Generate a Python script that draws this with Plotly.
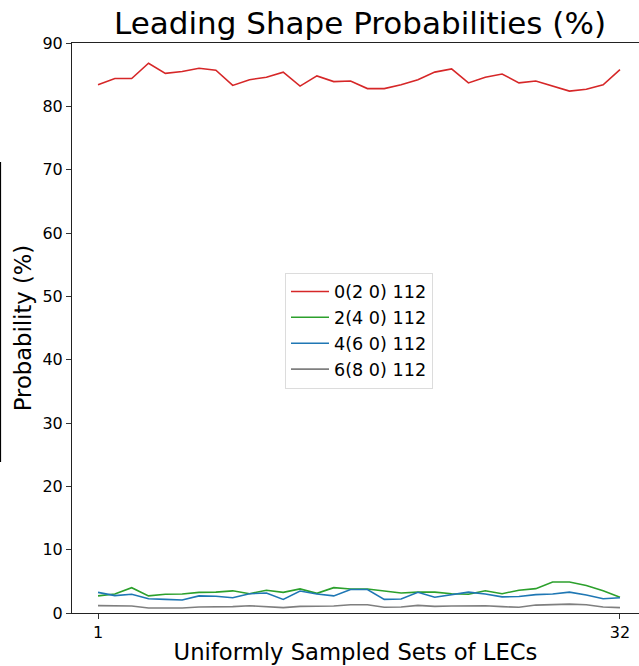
import plotly.graph_objects as go

x_vals = list(range(1, 33))
series_names = ["0(2 0) 112", "2(4 0) 112", "4(6 0) 112", "6(8 0) 112"]
red_vals = [83.4, 84.4, 84.4, 86.8, 85.2, 85.5, 86.0, 85.7, 83.3, 84.2, 84.6, 85.4,
            83.2, 84.8, 83.9, 84.0, 82.8, 82.8, 83.4, 84.2, 85.4, 85.9, 83.7, 84.6,
            85.1, 83.7, 84.0, 83.2, 82.4, 82.7, 83.4, 85.8]
green_vals = [2.7, 3.0, 4.0, 2.7, 2.95, 3.0, 3.26, 3.3, 3.5, 3.05, 3.6, 3.26,
              3.8, 3.1, 4.0, 3.8, 3.8, 3.5, 3.15, 3.3, 3.3, 3.05, 2.95, 3.5,
              3.05, 3.6, 3.85, 4.9, 4.9, 4.35, 3.5, 2.5]
blue_vals = [3.26, 2.75, 2.95, 2.26, 2.15, 2.05, 2.7, 2.65, 2.4, 3.05, 3.15, 2.15,
             3.47, 3.0, 2.7, 3.7, 3.7, 2.15, 2.2, 3.26, 2.5, 2.9, 3.3, 3.0,
             2.55, 2.6, 2.9, 3.0, 3.3, 2.85, 2.26, 2.4]
gray_vals = [1.16, 1.16, 1.1, 0.8, 0.8, 0.8, 0.95, 0.95, 1.0, 1.15, 1.05, 0.85,
             1.05, 1.1, 1.1, 1.3, 1.3, 0.9, 0.95, 1.2, 1.05, 1.1, 1.15, 1.15,
             1.0, 0.9, 1.25, 1.3, 1.4, 1.3, 0.95, 0.85]
colors = ["#d62728", "#2ca02c", "#1f77b4", "#7f7f7f"]
x_ticks = [1, 32]
y_ticks = list(range(0, 100, 10))

FONT = "DejaVu Sans"
W, H = 639, 666
L, R, T, B = 72, 0, 43, 53
PW, PH = W - L - R, H - T - B

fig = go.Figure()
for name, vals, c in zip(series_names, [red_vals, green_vals, blue_vals, gray_vals], colors):
    fig.add_trace(go.Scatter(x=x_vals, y=vals, mode="lines", name=name,
                             line=dict(color=c, width=1.6)))

fig.update_layout(
    width=W, height=H,
    margin=dict(l=L, r=R, t=T, b=B),
    plot_bgcolor="white", paper_bgcolor="white",
    font=dict(family=FONT, color="black", size=16),
    title=dict(text="Leading Shape Probabilities (%)", x=360 / W, xanchor="center",
               y=1 - 23 / H, yanchor="middle", font=dict(size=31, family=FONT)),
    showlegend=True,
    legend=dict(x=(285 - L) / PW, y=(613 - 272.5) / PH,
                xanchor="left", yanchor="top",
                bordercolor="#dcdcdc", borderwidth=1, bgcolor="rgba(255,255,255,0.8)",
                font=dict(size=17.6, family=FONT), tracegroupgap=0, itemwidth=38),
    xaxis=dict(range=[-0.545, 33.13], tickvals=x_ticks, ticks="outside", ticklen=5,
               tickcolor="#333", showline=True, linecolor="#222", linewidth=1,
               showgrid=False, zeroline=False, mirror=True,
               title=dict(text="Uniformly Sampled Sets of LECs", font=dict(size=22.7), standoff=2),
               tickfont=dict(size=16)),
    yaxis=dict(range=[0, 90], tickvals=y_ticks, ticks="outside", ticklen=5,
               tickcolor="#333", showline=True, linecolor="#222", linewidth=1,
               showgrid=False, zeroline=False,
               title=dict(text="Probability (%)", font=dict(size=22.7), standoff=4),
               tickfont=dict(size=16)),
)
# stray vertical line at left edge
fig.add_shape(type="line", xref="paper", yref="paper", x0=-71.5 / PW, x1=-71.5 / PW,
              y0=(613 - 462) / PH, y1=(613 - 162) / PH,
              line=dict(color="black", width=1.2))

fig.write_html("out.html")
